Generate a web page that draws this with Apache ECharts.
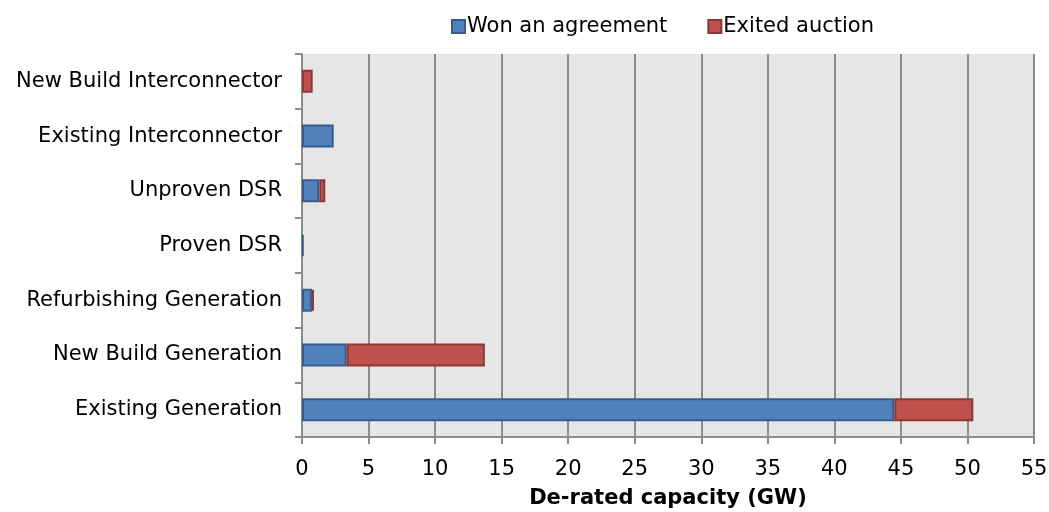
<!DOCTYPE html>
<html>
<head>
<meta charset="utf-8">
<script src="https://cdn.jsdelivr.net/npm/echarts@6/dist/echarts.min.js"></script>
<style>
    html, body { margin: 0; padding: 0; background: #fff; }
    #chart { width: 1049px; height: 512px; }
</style>
</head>
<body>
<div id="chart"></div>
<script>
// categories from bottom to top
var categories = [
    'Existing Generation',
    'New Build Generation',
    'Refurbishing Generation',
    'Proven DSR',
    'Unproven DSR',
    'Existing Interconnector',
    'New Build Interconnector'
]
// '-' = nothing in that category (a 0 would still draw a border sliver)
var wonAgreement = [44.5, 3.36, 0.75, 0.12, 1.3, 2.38, '-']
var exitedAuction = [5.94, 10.38, 0.15, '-', 0.45, '-', 0.8]
var xTicks = [0, 5, 10, 15, 20, 25, 30, 35, 40, 45, 50, 55]

var chart = echarts.init(document.getElementById('chart'))
var font = 'Verdana, "DejaVu Sans", sans-serif'

var option = {
    animation: false,
    textStyle: { fontFamily: font },
    legend: {
        top: 11,
        left: 446,
        icon: 'rect',
        itemWidth: 13,
        itemHeight: 13,
        itemGap: 40,
        textStyle: { fontSize: 21, color: '#000', fontFamily: font, padding: [0, 0, 0, -3] },
        data: ['Won an agreement', 'Exited auction'],
    },
    grid: {
        left: 302,
        right: 15,
        top: 54,
        bottom: 75,
        outerBoundsMode: 'none',
        containLabel: false,
        show: true,
        backgroundColor: '#E6E6E6',
        borderWidth: 0,
    },
    xAxis: {
        type: 'value',
        min: xTicks[0],
        max: xTicks[xTicks.length - 1],
        interval: 5,
        name: 'De-rated capacity (GW)',
        nameLocation: 'middle',
        nameGap: 51,
        nameTextStyle: { fontSize: 21, fontWeight: 'bold', color: '#000', fontFamily: font },
        axisLine: { show: true, lineStyle: { color: '#8C8C8C', width: 2 } },
        axisTick: { show: true, length: 7, lineStyle: { color: '#8C8C8C', width: 2 } },
        axisLabel: { fontSize: 21, color: '#000', margin: 22, fontFamily: font },
        splitLine: { show: true, lineStyle: { color: '#8C8C8C', width: 2 } },
    },
    yAxis: {
        type: 'category',
        data: categories,
        axisLine: { show: true, lineStyle: { color: '#8C8C8C', width: 2 } },
        axisTick: { show: true, length: 7, lineStyle: { color: '#8C8C8C', width: 2 } },
        axisLabel: { fontSize: 21, color: '#000', margin: 20, fontFamily: font },
        splitLine: { show: false },
    },
    series: [
        {
            name: 'Won an agreement',
            type: 'bar',
            stack: 'total',
            barWidth: 23,
            itemStyle: { color: '#4F81BD', borderColor: '#385D8A', borderWidth: 2 },
            data: wonAgreement,
        },
        {
            name: 'Exited auction',
            type: 'bar',
            stack: 'total',
            barWidth: 23,
            itemStyle: { color: '#C0504D', borderColor: '#8C3836', borderWidth: 2 },
            data: exitedAuction,
        },
    ],
}
option && chart.setOption(option)
</script>
</body>
</html>
